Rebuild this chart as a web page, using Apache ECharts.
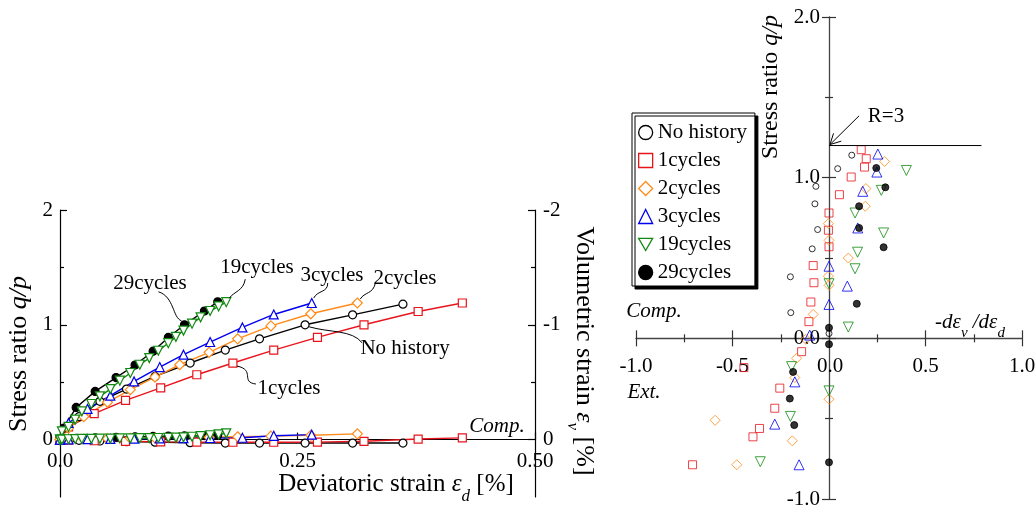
<!DOCTYPE html>
<html>
<head>
<meta charset="utf-8">
<script src="https://cdn.jsdelivr.net/npm/echarts@6.0.0/dist/echarts.min.js"></script>
<style>
html,body{margin:0;padding:0;background:#ffffff;}
#chart{width:1036px;height:506px;}
</style>
</head>
<body>
<div id="chart"></div>
<script>
// ---------------- DATA ----------------
const seriesNames = ['No history', '1cycles', '2cycles', '3cycles', '19cycles', '29cycles'];

// Left panel: deviatoric strain [%], stress ratio q/p, volumetric strain [%]
const noHistoryStrain = [0, 0.008, 0.02, 0.042, 0.07, 0.10, 0.137, 0.174, 0.21, 0.258, 0.308, 0.361];
const noHistoryRatio  = [0, 0.10, 0.20, 0.333, 0.44, 0.55, 0.667, 0.78, 0.878, 1.0, 1.087, 1.18];
const noHistoryVol    = [0, 0.003, 0.006, 0.012, 0.018, 0.022, 0.027, 0.03, 0.03, 0.03, 0.03, 0.03];

const cycles1Strain = [0, 0.009, 0.036, 0.069, 0.106, 0.144, 0.182, 0.225, 0.271, 0.32, 0.377, 0.4235];
const cycles1Ratio  = [0, 0.11, 0.226, 0.342, 0.45, 0.565, 0.667, 0.78, 0.89, 1.0, 1.116, 1.19];
const cycles1Vol    = [0, 0.004, 0.01, 0.015, 0.02, 0.022, 0.023, 0.023, 0.022, 0.015, -0.005, -0.015];

const cycles2Strain = [0, 0.009, 0.025, 0.05, 0.074, 0.1, 0.126, 0.157, 0.187, 0.222, 0.264, 0.313];
const cycles2Ratio  = [0, 0.1, 0.2, 0.325, 0.435, 0.545, 0.652, 0.76, 0.878, 0.99, 1.096, 1.19];
const cycles2Vol    = [0, -0.002, -0.005, -0.008, -0.011, -0.014, -0.017, -0.02, -0.025, -0.03, -0.038, -0.05];

const cycles3Strain = [0, 0.009, 0.029, 0.053, 0.078, 0.105, 0.13, 0.158, 0.192, 0.225, 0.265];
const cycles3Ratio  = [0, 0.145, 0.267, 0.383, 0.507, 0.632, 0.74, 0.85, 0.977, 1.09, 1.19];
const cycles3Vol    = [0, -0.002, -0.004, -0.006, -0.008, -0.01, -0.012, -0.014, -0.016, -0.033, -0.043];

const cycles19Strain = [0, 0.002, 0.009, 0.016, 0.023, 0.033, 0.042, 0.053, 0.063, 0.074, 0.084, 0.094, 0.1035, 0.114, 0.122, 0.130, 0.139, 0.148, 0.158, 0.167, 0.175];
const cycles19Ratio  = [0, 0.072, 0.11, 0.174, 0.246, 0.31, 0.377, 0.44, 0.513, 0.58, 0.652, 0.71, 0.774, 0.84, 0.895, 0.95, 1.01, 1.065, 1.12, 1.16, 1.197];
const cycles19Vol    = [0, 0, -0.003, -0.005, -0.006, -0.007, -0.008, -0.009, -0.01, -0.011, -0.012, -0.013, -0.014, -0.016, -0.018, -0.02, -0.025, -0.03, -0.038, -0.045, -0.055];

const cycles29Strain = [0, 0.004, 0.017, 0.037, 0.059, 0.079, 0.098, 0.114, 0.131, 0.152, 0.166];
const cycles29Ratio  = [0, 0.1, 0.28, 0.42, 0.54, 0.65, 0.77, 0.89, 1.0, 1.12, 1.2];
const cycles29Vol    = [0, -0.005, -0.01, -0.015, -0.02, -0.025, -0.028, -0.03, -0.032, -0.035, -0.038];

// Right panel: [-dev/ded, q/p]
const noHistoryDil = [[0.118,1.14],[0.045,1.056],[-0.068,0.946],[-0.073,0.837],[-0.059,0.677],[-0.087,0.557],[-0.2,0.383],[-0.198,0.16],[0.0,0.03]];
const cycles1Dil = [[0.167,1.174],[0.193,1.118],[0.184,1.066],[0.115,1.004],[0.054,0.894],[0.0,0.78],[-0.003,0.673],[0.0,0.57],[-0.082,0.453],[-0.078,0.346],[-0.094,0.226],[-0.104,0.104],[-0.142,-0.083],[-0.441,-0.182],[-0.255,-0.31],[-0.281,-0.435],[-0.36,-0.561],[-0.394,-0.613],[-0.707,-0.787]];
const cycles2Dil = [[0.288,1.101],[0.191,0.932],[0.188,0.822],[-0.003,0.714],[0.0,0.61],[0.1,0.5],[-0.003,0.387],[0.0,0.33],[-0.082,0.149],[-0.12,-0.006],[-0.168,-0.124],[-0.177,-0.244],[0.0,-0.379],[-0.59,-0.51],[-0.19,-0.638],[-0.478,-0.787]];
const cycles3Dil = [[0.253,1.147],[0.248,1.035],[0.175,0.915],[0.149,0.687],[0.0,0.449],[0.095,0.325],[0.0,0.211],[-0.1,0.02],[-0.177,-0.271],[-0.281,-0.534],[-0.155,-0.787]];
const cycles19Dil = [[0.401,1.045],[0.271,0.921],[0.135,0.78],[0.283,0.656],[0.148,0.536],[0.135,0.433],[0.0,0.34],[0.1,0.07],[-0.194,-0.176],[0.0,-0.327],[-0.2,-0.486],[-0.356,-0.768]];
const cycles29Dil = [[0.245,1.06],[0.292,0.94],[0.156,0.822],[0.156,0.687],[0.283,0.567],[0.144,0.215],[0.0,0.066],[0.0,-0.037],[-0.186,-0.209],[-0.203,-0.375],[-0.18,-0.54],[0.0,-0.772]];

// Tick labels / reference lines
const leftXTickLabels = ['0.0', '0.25', '0.50'];
const leftYTicks = [0, 1, 2];
const leftYMinorTicks = [0.5, 1.5];
const volTicks = [-2, -1, 0];
const volMinorTicks = [-1.5, -0.5];
const rightXZeroLabel = 0;
const criticalLine = [[0, 1.2], [0.79, 1.2]];      // R=3
const criticalArrow = [[0.156, 1.385], [0, 1.2]];  // tail, tip

// ---------------- STYLE ----------------
const FONT = '"Liberation Serif", "Times New Roman", Times, serif';
const DOWN = 'path://M0,0L10,0L5,8.66Z';
const styles = {
  'No history': {color: '#000000', symbol: 'circle',   sizeL: 8,  sizeR: 6,  filled: false},
  '1cycles':    {color: '#e8141c', symbol: 'rect',     sizeL: 8,  sizeR: 8,  filled: false},
  '2cycles':    {color: '#ff8c1a', symbol: 'diamond',  sizeL: 10, sizeR: 10, filled: false},
  '3cycles':    {color: '#0000f0', symbol: 'triangle', sizeL: 9,  sizeR: 10, filled: false},
  '19cycles':   {color: '#128a12', symbol: DOWN,       sizeL: 9,  sizeR: 10, filled: false},
  '29cycles':   {color: '#000000', symbol: 'circle',   sizeL: 8,  sizeR: 7,  filled: true}
};

// drawing order (29cycles under 19cycles, as in the figure)
const leftSets = [
  {name: '29cycles', ed: cycles29Strain, qp: cycles29Ratio, ev: cycles29Vol},
  {name: 'No history', ed: noHistoryStrain, qp: noHistoryRatio, ev: noHistoryVol},
  {name: '1cycles', ed: cycles1Strain, qp: cycles1Ratio, ev: cycles1Vol},
  {name: '2cycles', ed: cycles2Strain, qp: cycles2Ratio, ev: cycles2Vol},
  {name: '3cycles', ed: cycles3Strain, qp: cycles3Ratio, ev: cycles3Vol},
  {name: '19cycles', ed: cycles19Strain, qp: cycles19Ratio, ev: cycles19Vol}
];
const rightSets = [
  {name: 'No history', pts: noHistoryDil},
  {name: '1cycles', pts: cycles1Dil},
  {name: '2cycles', pts: cycles2Dil},
  {name: '3cycles', pts: cycles3Dil},
  {name: '19cycles', pts: cycles19Dil},
  {name: '29cycles', pts: cycles29Dil}
];

function zip(a, b) { return a.map((v, i) => [v, b[i]]); }

function leftLine(set, yIdx, vals) {
  const st = styles[set.name];
  return {
    type: 'line', name: set.name, xAxisIndex: 0, yAxisIndex: yIdx,
    data: zip(set.ed, vals),
    symbol: st.symbol, symbolSize: st.sizeL, showSymbol: true, showAllSymbol: true,
    clip: false, silent: true, animation: false, smooth: false,
    lineStyle: {color: st.color, width: 1.4},
    itemStyle: {color: st.filled ? st.color : '#ffffff', borderColor: st.color, borderWidth: 1.2},
    emphasis: {disabled: true}
  };
}

const series = [];
leftSets.forEach(s => {
  series.push(leftLine(s, 0, s.qp));
  series.push(leftLine(s, 1, s.ev));
});
rightSets.forEach(s => {
  const st = styles[s.name];
  series.push({
    type: 'scatter', name: s.name, xAxisIndex: 1, yAxisIndex: 4, data: s.pts,
    symbol: st.symbol, symbolSize: st.sizeR, clip: false, silent: true, animation: false,
    itemStyle: {color: st.filled ? st.color : 'rgba(255,255,255,0)', borderColor: st.color, borderWidth: 1},
    emphasis: {disabled: true}
  });
});
series.push({
  type: 'line', name: 'R=3', xAxisIndex: 1, yAxisIndex: 4, data: criticalLine,
  symbol: 'none', silent: true, animation: false, lineStyle: {color: '#000', width: 1}
});

const axisText = {fontFamily: FONT, fontSize: 21, color: '#000'};
function hiddenLabel() { return {show: false}; }

// grid geometry (layout only)
const G0 = {left: 60, top: 210, width: 475, height: 287};
const G1 = {left: 636, top: 17, width: 386, height: 482};
// offsets moving the crossing axes onto the zero lines
const leftXOffset = -G0.height * (0.5 / 2.5);           // y = 0 within [-0.5, 2]
const rightXOffset = -G1.height * (1 / 3);              // y = 0 within [-1, 2]
const rightYOffset = -G1.width * 0.5;                   // x = 0 within [-1, 1]
const rightXLabelMargin = 18;

const option = {
  animation: false,
  backgroundColor: '#ffffff',
  grid: [
    Object.assign({outerBoundsMode: 'none', containLabel: false}, G0),
    Object.assign({outerBoundsMode: 'none', containLabel: false}, G1),
    Object.assign({outerBoundsMode: 'none', containLabel: false}, G1)
  ],
  xAxis: [
    {
      gridIndex: 0, type: 'value', position: 'bottom', offset: leftXOffset, min: 0, max: 0.5, interval: 0.25,
      axisLine: {show: true, onZero: false, lineStyle: {color: '#000', width: 1.2}},
      axisTick: {show: true, inside: true, length: 7, lineStyle: {color: '#000', width: 1.2}},
      axisLabel: Object.assign({show: true, margin: 11, showMinLabel: true, showMaxLabel: true, hideOverlap: false,
        formatter: v => leftXTickLabels[Math.round(v / 0.25)]}, axisText),
      splitLine: {show: false}
    },
    {
      gridIndex: 1, type: 'value', position: 'bottom', offset: rightXOffset, min: -1, max: 1, interval: 0.5,
      axisLine: {show: true, onZero: false, lineStyle: {color: '#444', width: 1.3}},
      axisTick: {show: true, inside: false, length: 8, lineStyle: {color: '#333', width: 1.2}},
      minorTick: {show: true, splitNumber: 2, length: 4, lineStyle: {color: '#333', width: 1.2}},
      axisLabel: Object.assign({show: true, margin: rightXLabelMargin, showMinLabel: true, showMaxLabel: true, hideOverlap: false,
        formatter: v => (Math.abs(v - rightXZeroLabel) < 1e-9 ? '' : v.toFixed(1))}, axisText),
      splitLine: {show: false}, minorSplitLine: {show: false}
    },
    {
      gridIndex: 2, type: 'value', position: 'bottom', offset: rightXOffset, min: -1, max: 1, interval: 0.5,
      axisLine: {show: false, onZero: false},
      axisTick: {show: true, inside: true, length: 8, lineStyle: {color: '#333', width: 1.2}},
      minorTick: {show: true, splitNumber: 2, length: 4, lineStyle: {color: '#333', width: 1.2}},
      axisLabel: hiddenLabel(), splitLine: {show: false}
    }
  ],
  yAxis: [
    {
      gridIndex: 0, type: 'value', position: 'left', min: -0.5, max: 2, interval: 0.5,
      axisLine: {show: true, onZero: false, lineStyle: {color: '#000', width: 1.2}},
      axisTick: {show: true, inside: true, length: 7, customValues: leftYTicks, lineStyle: {color: '#000', width: 1.2}},
      axisLabel: Object.assign({show: true, margin: 7, customValues: leftYTicks, formatter: v => String(v)}, axisText),
      splitLine: {show: false}
    },
    {
      gridIndex: 0, type: 'value', position: 'right', min: -2, max: 0.5, interval: 0.5, inverse: true,
      axisLine: {show: true, onZero: false, lineStyle: {color: '#000', width: 1.2}},
      axisTick: {show: true, inside: true, length: 7, customValues: volTicks, lineStyle: {color: '#000', width: 1.2}},
      axisLabel: Object.assign({show: true, margin: 8, customValues: volTicks, formatter: v => String(v)}, axisText),
      splitLine: {show: false}
    },
    {
      gridIndex: 0, type: 'value', position: 'left', min: -0.5, max: 2, interval: 0.5,
      axisLine: {show: false, onZero: false},
      axisTick: {show: true, inside: true, length: 4, customValues: leftYMinorTicks, lineStyle: {color: '#000', width: 1.2}},
      axisLabel: hiddenLabel(), splitLine: {show: false}
    },
    {
      gridIndex: 0, type: 'value', position: 'right', min: -2, max: 0.5, interval: 0.5, inverse: true,
      axisLine: {show: false, onZero: false},
      axisTick: {show: true, inside: true, length: 4, customValues: volMinorTicks, lineStyle: {color: '#000', width: 1.2}},
      axisLabel: hiddenLabel(), splitLine: {show: false}
    },
    {
      gridIndex: 1, type: 'value', position: 'left', offset: rightYOffset, min: -1, max: 2, interval: 1,
      axisLine: {show: true, onZero: false, lineStyle: {color: '#444', width: 1.3}},
      axisTick: {show: true, inside: false, length: 7, lineStyle: {color: '#333', width: 1.2}},
      minorTick: {show: true, splitNumber: 2, length: 4, lineStyle: {color: '#333', width: 1.2}},
      axisLabel: Object.assign({show: true, margin: 9, showMinLabel: true, showMaxLabel: true, hideOverlap: false,
        formatter: v => v.toFixed(1)}, axisText),
      splitLine: {show: false}, minorSplitLine: {show: false}
    },
    {
      gridIndex: 2, type: 'value', position: 'left', offset: rightYOffset, min: -1, max: 2, interval: 1,
      axisLine: {show: false, onZero: false},
      axisTick: {show: true, inside: true, length: 7, lineStyle: {color: '#333', width: 1.2}},
      minorTick: {show: true, splitNumber: 2, length: 4, lineStyle: {color: '#333', width: 1.2}},
      axisLabel: hiddenLabel(), splitLine: {show: false}
    }
  ],
  legend: {
    orient: 'vertical', left: 632, top: 113, selectedMode: false,
    itemWidth: 14, itemHeight: 14, itemGap: 7, padding: [9, 8, 3, 6],
    backgroundColor: '#ffffff', borderColor: '#000', borderWidth: 1, borderRadius: 0,
    shadowColor: '#000', shadowOffsetX: 3, shadowOffsetY: 3, shadowBlur: 0,
    textStyle: {fontFamily: FONT, fontSize: 21, color: '#000'},
    data: seriesNames.map(n => ({
      name: n, icon: styles[n].symbol,
      itemStyle: {color: styles[n].filled ? styles[n].color : '#ffffff', borderColor: styles[n].color, borderWidth: 1.3}
    }))
  },
  series: series
};

const chart = echarts.init(document.getElementById('chart'), null, {renderer: 'canvas'});
chart.setOption(option);

// ---------------- ANNOTATIONS ----------------
function px(pt) { return chart.convertToPixel({xAxisIndex: 0, yAxisIndex: 0}, pt); }
function pxR(pt) { return chart.convertToPixel({xAxisIndex: 1, yAxisIndex: 4}, pt); }

function txt(x, y, rich, text, rot, size) {
  return {
    type: 'text', x: x, y: y, rotation: rot || 0, silent: true, z: 100,
    style: {
      text: text, rich: rich, fill: '#000',
      fontFamily: FONT, fontSize: size || 21,
      align: 'center', verticalAlign: 'middle', textAlign: 'center', textVerticalAlign: 'middle'
    }
  };
}
function plain(x, y, text, italic) {
  return {
    type: 'text', x: x, y: y, silent: true, z: 100,
    style: {
      text: text, fill: '#000', fontFamily: FONT, fontSize: 21, fontStyle: italic ? 'italic' : 'normal',
      align: 'center', verticalAlign: 'middle', textAlign: 'center', textVerticalAlign: 'middle'
    }
  };
}
function richSet(size, subSize, lh) {
  return {
    n: {fontFamily: FONT, fontSize: size, lineHeight: lh, verticalAlign: 'middle', fill: '#000'},
    i: {fontFamily: FONT, fontSize: size, fontStyle: 'italic', lineHeight: lh, verticalAlign: 'middle', fill: '#000'},
    s: {fontFamily: FONT, fontSize: subSize, fontStyle: 'italic', lineHeight: subSize, verticalAlign: 'bottom', fill: '#000'}
  };
}

const leftLabels = [
  {t: '29cycles', x: 150, y: 283, a: [cycles29Strain[8], cycles29Ratio[8]], c: [[-26, -33], [-10, -28], [-12, -7], [-3, -4]]},
  {t: '19cycles', x: 257, y: 267, a: [cycles19Strain[20], cycles19Ratio[20]], c: [[19, -23], [17, -11], [8, -11], [3, -4]]},
  {t: '3cycles', x: 332, y: 275, a: [cycles3Strain[10], cycles3Ratio[10]], c: [[16, -20], [16, -10], [6, -13], [2, -5]]},
  {t: '2cycles', x: 405, y: 278, a: [cycles2Strain[11], cycles2Ratio[11]], c: [[18, -20], [16, -9], [7, -11], [3, -4]]},
  {t: 'No history', x: 405, y: 348, a: [noHistoryStrain[9], noHistoryRatio[9]], c: [[4, 2], [25, 8], [47, 5], [57, 18]]},
  {t: '1cycles', x: 289, y: 388, a: [cycles1Strain[6], cycles1Ratio[6]], c: [[4, 3], [23, 7], [7, 19], [23, 21]]}
];

const graphics = [];
leftLabels.forEach(L => {
  graphics.push(plain(L.x, L.y, L.t, false));
  const A = px(L.a);
  const c = L.c;
  graphics.push({
    type: 'bezierCurve', silent: true, z: 90,
    shape: {
      x1: A[0] + c[0][0], y1: A[1] + c[0][1],
      cpx1: A[0] + c[1][0], cpy1: A[1] + c[1][1],
      cpx2: A[0] + c[2][0], cpy2: A[1] + c[2][1],
      x2: A[0] + c[3][0], y2: A[1] + c[3][1]
    },
    style: {stroke: '#000', lineWidth: 1, fill: null}
  });
});

// axis titles (left panel)
graphics.push(txt(19, 354, richSet(26, 17, 40), '{n|Stress ratio }{i|q/p}', Math.PI / 2));
graphics.push(txt(396, 484, richSet(25, 17, 42), '{n|Deviatoric strain }{i|ε}{s|d}{n| [%]}', 0));
graphics.push(txt(584, 351, richSet(26, 17, 40), '{n|Volumetric strain }{i|ε}{s|v}{n| [%]}', -Math.PI / 2));
graphics.push(plain(497, 426, 'Comp.', true));

// right panel
graphics.push(txt(771, 87, richSet(24, 16, 36), '{n|Stress ratio }{i|q/p}', Math.PI / 2));
graphics.push(txt(970, 322, richSet(21, 15, 38), '{i|-dε}{s|v}{i| /dε}{s|d}', 0));
graphics.push(plain(654, 311, 'Comp.', true));
graphics.push(plain(644, 392, 'Ext.', true));
graphics.push(plain(886, 116, 'R=3', false));

// x tick label at the origin of the right panel, centred on the vertical axis
const O = pxR([rightXZeroLabel, 0]);
graphics.push(plain(O[0] + 1, O[1] + rightXLabelMargin + 10, rightXZeroLabel.toFixed(1), false));

const T = pxR(criticalArrow[0]);
const P = pxR(criticalArrow[1]);
const dx = T[0] - P[0], dy = T[1] - P[1];
const len = Math.sqrt(dx * dx + dy * dy);
const ux = dx / len, uy = dy / len;
const hl = 13, ang = 25 * Math.PI / 180;
function rot(x, y, a) { return [x * Math.cos(a) - y * Math.sin(a), x * Math.sin(a) + y * Math.cos(a)]; }
const h1 = rot(ux, uy, ang), h2 = rot(ux, uy, -ang);
graphics.push({
  type: 'line', silent: true, z: 90,
  shape: {x1: T[0], y1: T[1], x2: P[0] + 1, y2: P[1] - 1},
  style: {stroke: '#000', lineWidth: 1}
});
graphics.push({
  type: 'polyline', silent: true, z: 90,
  shape: {points: [[P[0] + h1[0] * hl, P[1] + h1[1] * hl], [P[0] + 1, P[1] - 1], [P[0] + h2[0] * hl, P[1] + h2[1] * hl]]},
  style: {stroke: '#000', lineWidth: 1, fill: null}
});

chart.setOption({graphic: graphics});
</script>
</body>
</html>
